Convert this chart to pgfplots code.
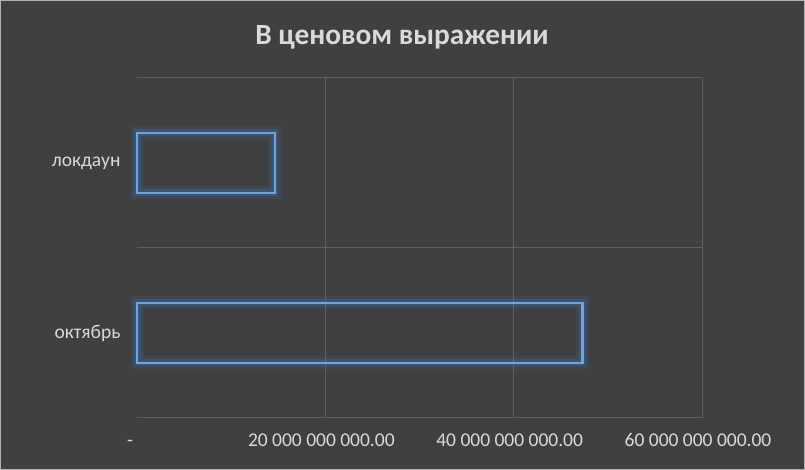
\documentclass[border=0pt]{standalone}
\usepackage{pgfplots}
\pgfplotsset{compat=1.18}
\usepackage{fontspec}
\setmainfont{Carlito}
\definecolor{bg}{RGB}{64,64,64}
\definecolor{gridc}{RGB}{95,95,95}
\definecolor{txt}{RGB}{217,217,217}
\definecolor{barline}{RGB}{110,165,225}
\definecolor{glow}{RGB}{55,115,190}

\begin{document}
\begin{tikzpicture}[x=1pt,y=1pt]
\fill[bg] (0,0) rectangle (805,470);
\draw[gray!60, line width=1pt] (0.5,0.5) rectangle (804.5,469.5);
\node[text=txt, font=\fontsize{29.3}{34}\selectfont\bfseries] at (402,433) {В ценовом выражении};
\begin{axis}[
    at={(137pt,52pt)}, anchor=south west,
    scale only axis, width=565pt, height=340pt,
    xbar, bar width=60pt, clip=false,
    xmin=0, xmax=60e9, ymin=-0.5, ymax=1.5,
    axis line style={draw=none},
    ytick={0,1}, yticklabels={октябрь, локдаун},
    xtick={20e9,40e9,60e9},
    xticklabels={20 000 000 000.00, 40 000 000 000.00, 60 000 000 000.00},
    extra x ticks={0}, extra x tick labels={-},
    extra x tick style={grid=none, xticklabel style={xshift=-3pt}},
    minor ytick={-0.5,0.5,1.5},
    yminorgrids, xmajorgrids,
    major grid style={gridc, line width=1pt},
    minor grid style={gridc, line width=1pt},
    major tick length=0pt, minor tick length=0pt,
    tick label style={text=txt, font=\fontsize{19.5}{23}\selectfont},
    xticklabel style={yshift=-12pt, xshift=-4pt, text height=12.7pt, text depth=0pt},
    yticklabel style={xshift=-13pt},
    scaled x ticks=false,
    /pgf/number format/assume math mode=true,
]
\addplot[draw=barline, line width=2.5pt, fill=none,
    preaction={draw=glow, line width=13pt, draw opacity=0.15},
    preaction={draw=glow, line width=7pt, draw opacity=0.3}]
    coordinates {(47.3e9,0) (14.65e9,1)};
\end{axis}
\end{tikzpicture}
\end{document}
